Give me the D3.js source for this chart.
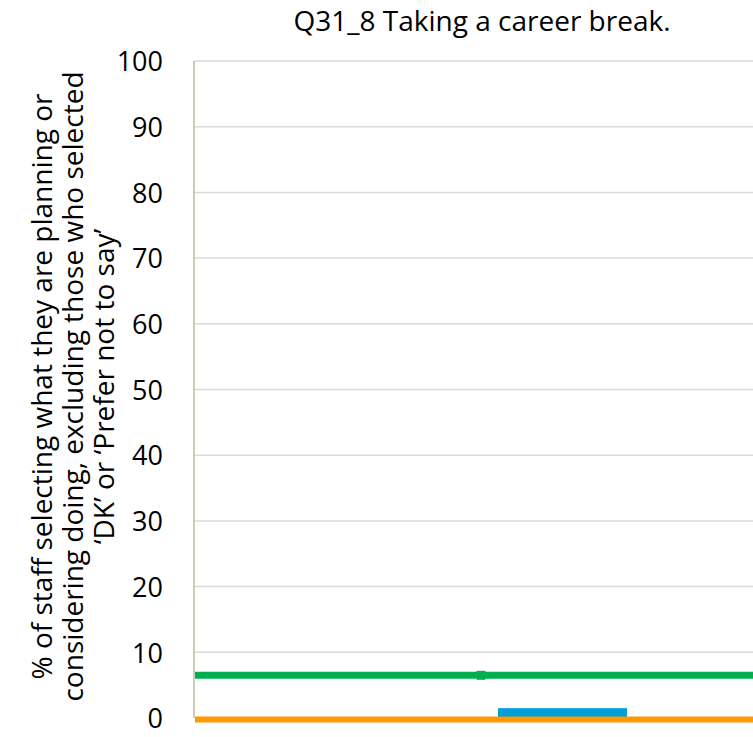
<!DOCTYPE html>
<html>
<head>
<meta charset="utf-8">
<script src="https://cdn.jsdelivr.net/npm/d3@7"></script>
<style>
  html, body { margin: 0; padding: 0; background: #fff; }
  svg { display: block; }
  text { font-family: "Open Sans", sans-serif; fill: #000; }
</style>
</head>
<body>
<svg id="chart" width="753" height="737"></svg>
<script>
// ---- data ----
const chartTitle = "Q31_8 Taking a career break.";
const categories = ["Taking a career break"];
const barSeries = ["Comparison", "Staff"];
const barValues = [null, 1.5];
const barColors = ["#009fda", "#009fda"];
const lineSeries = ["Benchmark", "Baseline"];
const lineValues = [6.5, 0];
const lineColors = ["#00b050", "#ff9900"];
const lineMarkers = [true, false];
const yTicks = [0, 10, 20, 30, 40, 50, 60, 70, 80, 90, 100];
const yTitleLines = [
  "% of staff selecting what they are planning or",
  "considering doing, excluding those who selected",
  "\u2018DK\u2019 or \u2018Prefer not to say\u2019"
];

// ---- layout ----
const plot = { left: 194, right: 768, top: 61, bottom: 718 };

const svg = d3.select("#chart");

const y = d3.scaleLinear().domain([0, 100]).range([plot.bottom, plot.top]);
const x0 = d3.scaleBand().domain(categories).range([plot.left, plot.right])
  .paddingInner(0).paddingOuter(0.483);
const x1 = d3.scaleBand().domain(barSeries).range([0, x0.bandwidth()])
  .paddingInner(0.2086);

// gridlines
svg.append("g")
  .selectAll("line")
  .data(yTicks.filter(t => t > 0))
  .join("line")
  .attr("x1", plot.left).attr("x2", plot.right)
  .attr("y1", d => y(d)).attr("y2", d => y(d))
  .attr("stroke", "#d9d9d9").attr("stroke-width", 1.5);

// y axis labels via d3 axis
const yAxis = d3.axisLeft(y).tickValues(yTicks).tickSize(0).tickPadding(31);
const gy = svg.append("g").attr("transform", `translate(${plot.left},0)`).call(yAxis);
gy.select(".domain").remove();
gy.selectAll("text")
  .style("font-family", "'Open Sans', sans-serif")
  .style("font-size", "27px")
  .attr("fill", "#000")
  .attr("dy", "0.36em");

// axis line
svg.append("line")
  .attr("x1", plot.left).attr("x2", plot.left)
  .attr("y1", plot.top).attr("y2", plot.bottom)
  .attr("stroke", "#bdbba0").attr("stroke-width", 1.5);

// bars
const barData = barSeries.map((s, i) => ({ cat: categories[0], s, v: barValues[i], c: barColors[i] }))
  .filter(d => d.v != null);
svg.append("g")
  .selectAll("rect")
  .data(barData)
  .join("rect")
  .attr("x", d => x0(d.cat) + x1(d.s))
  .attr("width", x1.bandwidth())
  .attr("y", d => y(d.v))
  .attr("height", d => y(0) - y(d.v))
  .attr("fill", d => d.c);

// horizontal reference lines
const lineData = lineSeries.map((s, i) => ({ s, v: lineValues[i], c: lineColors[i], m: lineMarkers[i] }));
const lineGen = d3.line().x(p => p[0]).y(p => p[1]);
svg.append("g")
  .selectAll("path")
  .data(lineData)
  .join("path")
  .attr("d", d => lineGen([[x0.range()[0] + 1, y(d.v)], [x0.range()[1], y(d.v)]]))
  .attr("stroke", d => d.c)
  .attr("stroke-width", d => d.v === 0 ? 6 : 7)
  .attr("fill", "none")
  .attr("transform", d => d.v === 0 ? "translate(0,1.5)" : null);

// markers
svg.append("g")
  .selectAll("rect")
  .data(lineData.filter(d => d.m))
  .join("rect")
  .attr("x", d => x0(categories[0]) + x0.bandwidth() / 2 - 4.5)
  .attr("y", d => y(d.v) - 4.5)
  .attr("width", 9).attr("height", 9)
  .attr("fill", d => d.c);

// title
svg.append("text")
  .attr("x", 482).attr("y", 31)
  .attr("text-anchor", "middle")
  .style("font-size", "28px")
  .text(chartTitle);

// y title
const yt = svg.append("text")
  .attr("transform", `translate(52, ${(plot.top + plot.bottom) / 2 - 3}) rotate(-90)`)
  .attr("text-anchor", "middle")
  .style("font-size", "28px");
yt.selectAll("tspan")
  .data(yTitleLines)
  .join("tspan")
  .attr("x", 0)
  .attr("y", (d, i) => i * 31)
  .text(d => d);
</script>
</body>
</html>
